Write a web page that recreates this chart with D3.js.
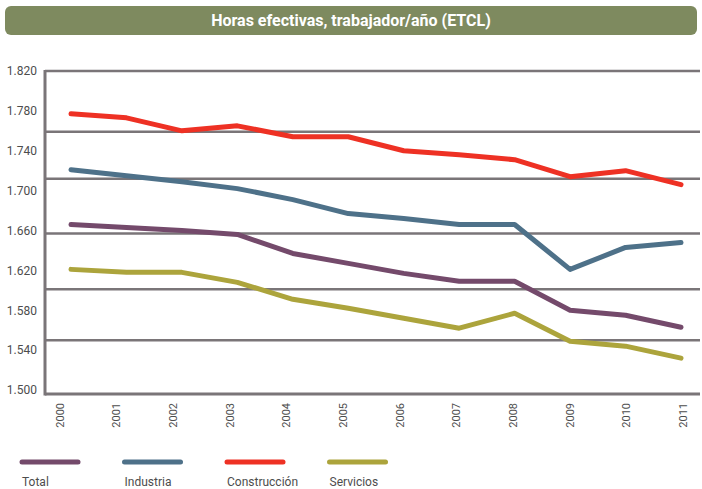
<!DOCTYPE html>
<html>
<head>
<meta charset="utf-8">
<script src="https://cdn.jsdelivr.net/npm/d3@7/dist/d3.min.js"></script>
<style>
  body { margin: 0; background: #fff; }
  svg { display: block; }
</style>
</head>
<body>
<div id="chart"></div>
<script>
var width = 702,
    height = 489;

// data (hours / worker / year)
var years = ['2000', '2001', '2002', '2003', '2004', '2005', '2006', '2007', '2008', '2009', '2010', '2011'];
var total        = [1666, 1663, 1660, 1656, 1637, 1627, 1617, 1609, 1609, 1580, 1575, 1563];
var industria    = [1721, 1715, 1709, 1702, 1691, 1677, 1672, 1666, 1666, 1621, 1643, 1648];
var construccion = [1777, 1773, 1760, 1765, 1754, 1754, 1740, 1736, 1731, 1714, 1720, 1706];
var servicios    = [1621, 1618, 1618, 1608, 1591, 1582, 1572, 1562, 1577, 1549, 1544, 1532];
var seriesNames  = ['Total', 'Industria', 'Construcción', 'Servicios'];
var yTicks = [1500, 1540, 1580, 1620, 1660, 1700, 1740, 1780, 1820];
var gridValues = [1759, 1712, 1657, 1601, 1550];

var colors = ['#744a6b', '#4e7189', '#ee3124', '#aca43c'];
var allSeries = [total, industria, construccion, servicios];

var svg = d3.select('#chart')
    .append('svg')
    .attr('width', width)
    .attr('height', height);

// title bar
svg.append('rect')
    .attr('x', 5)
    .attr('y', 6)
    .attr('width', 692)
    .attr('height', 29)
    .attr('rx', 6)
    .attr('fill', '#7e8a5f');

svg.append('text')
    .attr('x', width / 2)
    .attr('y', 26)
    .attr('text-anchor', 'middle')
    .attr('fill', '#fff')
    .style('font-family', '"Liberation Sans Narrow", "Roboto", sans-serif')
    .style('font-weight', 'bold')
    .style('font-size', '16px')
    .text('Horas efectivas, trabajador/año (ETCL)');

var left = 45,
    right = 700,
    bottom = 394;

var y = d3.scaleLinear().domain([1500, 1820]).range([390, 71]);
var x = d3.scalePoint().domain(years).range([71, 681]);
var xLab = d3.scalePoint().domain(years).range([60, 683]);

var axisColor = '#7a7578';
var fmt = d3.formatLocale({ decimal: ',', thousands: '.', grouping: [3], currency: ['', ''] }).format(',');

// grid lines and frame
svg.append('g')
    .selectAll('line')
    .data(gridValues.concat([1820]))
    .enter()
    .append('line')
    .attr('x1', left)
    .attr('x2', right)
    .attr('y1', function (d) { return y(d); })
    .attr('y2', function (d) { return y(d); })
    .attr('stroke', axisColor)
    .attr('stroke-width', 2.5);

svg.append('line')
    .attr('x1', left).attr('x2', right)
    .attr('y1', bottom).attr('y2', bottom)
    .attr('stroke', axisColor)
    .attr('stroke-width', 3);

svg.append('line')
    .attr('x1', left).attr('x2', left)
    .attr('y1', y(1820) - 1).attr('y2', bottom + 1.5)
    .attr('stroke', axisColor)
    .attr('stroke-width', 3);

// y axis labels
var yAxis = svg.append('g')
    .attr('transform', 'translate(' + left + ',0)')
    .call(d3.axisLeft(y).tickValues(yTicks).tickSize(0).tickPadding(8).tickFormat(fmt));
yAxis.select('.domain').remove();
yAxis.selectAll('text')
    .attr('fill', '#4d4d4d')
    .style('font-family', 'Roboto, sans-serif')
    .style('font-size', '12px');

// x axis labels, rotated
svg.append('g')
    .selectAll('text')
    .data(years)
    .enter()
    .append('text')
    .attr('transform', function (d) {
        return 'translate(' + xLab(d) + ',403) rotate(-90)';
    })
    .attr('dy', '0.35em')
    .attr('text-anchor', 'end')
    .attr('fill', '#4d4d4d')
    .style('font-family', 'Roboto, sans-serif')
    .style('font-size', '11px')
    .text(function (d) { return d; });

// lines
var line = d3.line()
    .x(function (d, i) { return x(years[i]); })
    .y(function (d) { return y(d); });

svg.append('g')
    .selectAll('path')
    .data(allSeries)
    .enter()
    .append('path')
    .attr('d', line)
    .attr('fill', 'none')
    .attr('stroke', function (d, i) { return colors[i]; })
    .attr('stroke-width', 5)
    .attr('stroke-linecap', 'round')
    .attr('stroke-linejoin', 'round');

// legend
var legend = svg.append('g')
    .selectAll('g')
    .data(seriesNames)
    .enter()
    .append('g')
    .attr('transform', function (d, i) {
        return 'translate(' + (22 + i * 102.5) + ',0)';
    });

legend.append('line')
    .attr('x1', 0)
    .attr('x2', 56)
    .attr('y1', 462)
    .attr('y2', 462)
    .attr('stroke', function (d, i) { return colors[i]; })
    .attr('stroke-width', 5)
    .attr('stroke-linecap', 'round');

legend.append('text')
    .attr('x', 0)
    .attr('y', 486)
    .attr('fill', '#4d4d4d')
    .style('font-family', 'Roboto, sans-serif')
    .style('font-size', '12px')
    .text(function (d) { return d; });
</script>
</body>
</html>
